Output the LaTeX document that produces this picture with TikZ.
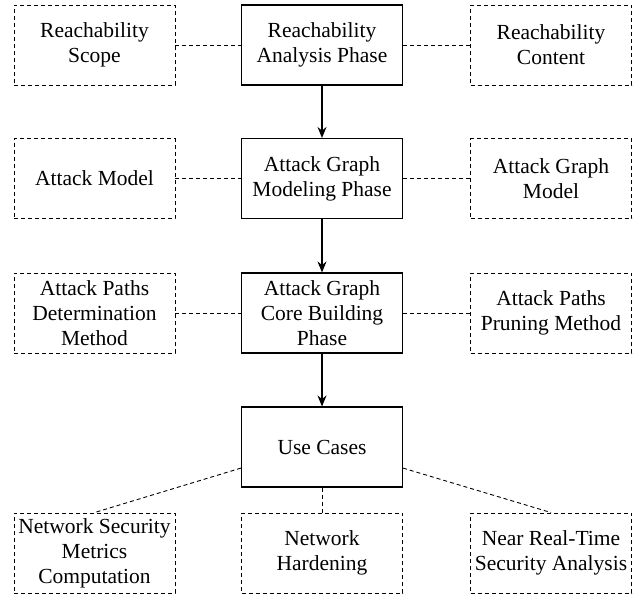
\documentclass[tikz,border=0pt]{standalone}
\usepackage{fontspec}
\setmainfont{Liberation Serif}
\usetikzlibrary{calc,arrows.meta}
\begin{document}
\begin{tikzpicture}[x=1pt,y=-1pt,
  box/.style={draw, line width=1.1pt, minimum width=161pt, minimum height=80pt,
    align=center, font=\fontsize{21.5}{25}\selectfont, inner sep=0pt},
  dbox/.style={box, dash pattern=on 4pt off 3pt, line width=0.9pt},
  link/.style={dash pattern=on 4pt off 3pt, line width=0.9pt},
  flow/.style={-{Stealth[length=11pt,width=9pt]}, line width=1.1pt}]
\useasboundingbox (0,0) rectangle (644,597);
% row 1
\node[box] (c1) at (322,45) {Reachability\\Analysis Phase};
\node[dbox] (l1) at (94.5,45) {Reachability\\Scope};
\node[dbox] (r1) at (551,45) {Reachability\\Content};
% row 2
\node[box] (c2) at (322,178.5) {Attack Graph\\Modeling Phase};
\node[dbox] (l2) at (94.5,178.5) {Attack Model};
\node[dbox] (r2) at (551,178.5) {Attack Graph\\Model};
% row 3
\node[box] (c3) at (322,313) {Attack Graph\\Core Building\\Phase};
\node[dbox] (l3) at (94.5,313) {Attack Paths\\Determination\\Method};
\node[dbox] (r3) at (551,313) {Attack Paths\\Pruning Method};
% row 4
\node[box] (c4) at (322,447) {Use Cases};
% row 5
\node[dbox] (b1) at (94.5,553) {Network Security\\Metrics\\Computation};
\node[dbox] (b2) at (322,553) {Network\\Hardening};
\node[dbox] (b3) at (551,553) {Near Real-Time\\Security Analysis};
% links
\draw[link] (l1) -- (c1); \draw[link] (c1) -- (r1);
\draw[link] (l2) -- (c2); \draw[link] (c2) -- (r2);
\draw[link] (l3) -- (c3); \draw[link] (c3) -- (r3);
\draw[flow] (c1) -- (c2);
\draw[flow] (c2) -- (c3);
\draw[flow] (c3) -- (c4);
\coordinate (c4w) at ($(c4.north west)!0.76!(c4.south west)$);
\coordinate (c4e) at ($(c4.north east)!0.76!(c4.south east)$);
\draw[link] (c4w) -- (b1.north);
\draw[link] (c4.south) -- (b2.north);
\draw[link] (c4e) -- (b3.north);
\end{tikzpicture}
\end{document}
